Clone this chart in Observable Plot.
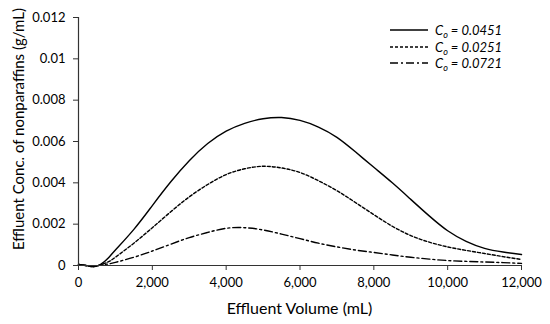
<!DOCTYPE html>
<html>
<head>
<meta charset="utf-8">
<script src="https://cdn.jsdelivr.net/npm/d3@7"></script>
<script src="https://cdn.jsdelivr.net/npm/@observablehq/plot@0.6"></script>
<style>
  body { margin: 0; background: #fff; }
  #wrap { position: relative; width: 550px; height: 324px; font-family: Lato, "Open Sans", sans-serif; }
  #legend { position: absolute; left: 390px; top: 22px; font-style: italic; font-size: 13px; color: #000; }
  #legend .row { display: flex; align-items: center; height: 16.5px; }
  #legend svg { margin-right: 7px; }
  #legend sub { font-size: 9px; vertical-align: -3px; line-height: 0; }
  #ylabel { position: absolute; left: 18px; top: 129px; transform: translate(-50%, -50%) rotate(-90deg);
            white-space: nowrap; font-size: 15px; color: #000; }
  #xlabel { position: absolute; left: 299.5px; top: 307px; transform: translate(-50%, -50%);
            white-space: nowrap; font-size: 16px; color: #000; }
</style>
</head>
<body>
<div id="wrap"><div id="legend"></div><div id="ylabel"></div><div id="xlabel"></div></div>
<script>
// Effluent volume (mL)
const volume = [0, 200, 400, 600, 800, 1000, 1500, 2000, 2500, 3000, 3500, 4000, 4500, 5000, 5500, 6000,
                6500, 7000, 7500, 8000, 8500, 9000, 9500, 10000, 10500, 11000, 11500, 12000];
// Effluent concentration (g/mL) for each feed concentration
const conc0451 = [0.00005, 0.0, -0.00006, 0.00005, 0.00035, 0.00075, 0.00175, 0.0029, 0.00405, 0.00507, 0.0059, 0.0065,
                  0.00688, 0.0071, 0.00716, 0.00702, 0.0067, 0.0062, 0.0055, 0.00475, 0.0040, 0.0032, 0.0024, 0.00168,
                  0.00117, 0.00083, 0.00065, 0.00053];
const conc0251 = [0.00005, 0.0, -0.00005, 0.00003, 0.00017, 0.0004, 0.00108, 0.00183, 0.0026, 0.00332, 0.00392, 0.0044,
                  0.00468, 0.0048, 0.00472, 0.0045, 0.0041, 0.00362, 0.00305, 0.00246, 0.0019, 0.00145, 0.00113, 0.0009,
                  0.00073, 0.00058, 0.00043, 0.00029];
const conc0721 = [0.00005, 0.0, -0.00003, 0.00002, 0.00007, 0.00015, 0.0004, 0.0007, 0.00103, 0.00135, 0.0016, 0.0018,
                  0.00183, 0.00172, 0.00152, 0.0013, 0.00108, 0.0009, 0.00075, 0.00063, 0.00051, 0.0004, 0.00031, 0.00024,
                  0.0002, 0.00017, 0.00014, 0.0001];
const seriesNames = ["0.0451", "0.0251", "0.0721"];
const seriesValues = [conc0451, conc0251, conc0721];
const seriesDash = [null, "3,2", "8,3,2,3"];
const xTicks = [0, 2000, 4000, 6000, 8000, 10000, 12000];
const yTicks = [0, 0.002, 0.004, 0.006, 0.008, 0.01, 0.012];
const xLabel = "Effluent Volume (mL)";
const yLabel = "Effluent Conc. of nonparaffins (g/mL)";

const lineMarks = seriesValues.map((vals, i) =>
  Plot.line(volume.map((v, j) => ({v, c: vals[j]})), {
    x: "v", y: "c", stroke: "#000", strokeWidth: 1.4, curve: "natural",
    strokeDasharray: seriesDash[i] ?? undefined
  })
);

const chart = Plot.plot({
  width: 550, height: 324,
  marginLeft: 78, marginRight: 29, marginTop: 17, marginBottom: 59,
  style: {fontFamily: "Lato, 'Open Sans', sans-serif", fontSize: "13px", color: "#000", background: "#fff"},
  x: {domain: [0, 12000]},
  y: {domain: [0, 0.012]},
  marks: [
    Plot.axisX({ticks: xTicks, tickFormat: d3.format(","), tickSize: 5, tickPadding: 7, label: null, stroke: "#333"}),
    Plot.axisY({ticks: yTicks, tickFormat: d => d === 0 ? "0" : String(+d.toFixed(3)), tickSize: 5, tickPadding: 8, label: null, stroke: "#333"}),
    ...lineMarks,
    Plot.ruleY([0], {stroke: "#333", strokeWidth: 1.2}),
    Plot.ruleX([0], {stroke: "#333", strokeWidth: 1.2})
  ]
});
document.getElementById("wrap").prepend(chart);
document.getElementById("xlabel").textContent = xLabel;
document.getElementById("ylabel").textContent = yLabel;

const legend = document.getElementById("legend");
seriesNames.forEach((name, i) => {
  const row = document.createElement("div");
  row.className = "row";
  const dash = seriesDash[i] ? ` stroke-dasharray="${seriesDash[i]}"` : "";
  row.innerHTML = `<svg width="38" height="6"><line x1="0" y1="3" x2="38" y2="3" stroke="#000" stroke-width="1.4"${dash}/></svg><span>C<sub>o</sub> = ${name}</span>`;
  legend.appendChild(row);
});
</script>
</body>
</html>
